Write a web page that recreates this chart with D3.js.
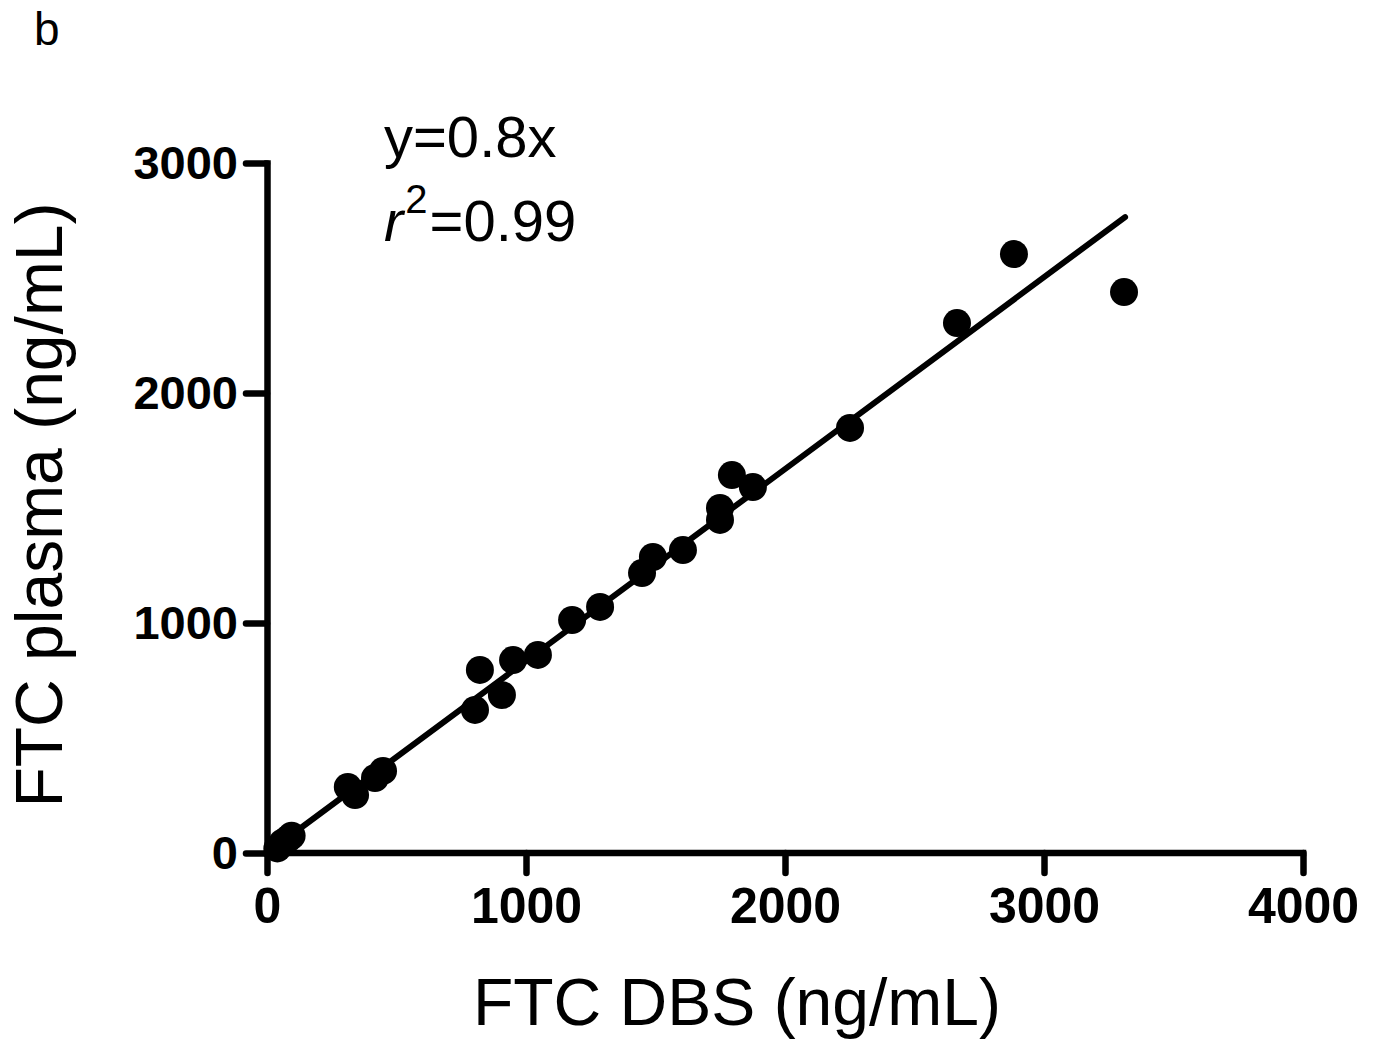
<!DOCTYPE html>
<html>
<head>
<meta charset="utf-8">
<script src="https://cdn.jsdelivr.net/npm/d3@7/dist/d3.min.js"></script>
<style>
  html, body { margin: 0; padding: 0; background: #fff; }
  svg { display: block; font-family: "Liberation Sans", Arial, sans-serif; }
</style>
</head>
<body>
<svg id="chart" width="1374" height="1040"></svg>
<script>
// Data (FTC DBS vs FTC plasma, ng/mL)
const dbsValues = [40, 60, 95, 80, 312, 340, 417, 448, 803, 822, 907, 950, 1046,
  1178, 1286, 1448, 1490, 1606, 1749, 1749, 1795, 1876, 2251, 2664, 2884, 3309];
const plasmaValues = [20, 45, 75, 60, 287, 252, 326, 357, 622, 796, 687, 839, 861,
  1013, 1070, 1217, 1287, 1317, 1448, 1500, 1643, 1591, 1848, 2304, 2604, 2439];
// Regression line as drawn
const fitX = [0, 3313];
const fitY = [0, 2765];
const xTicks = [0, 1000, 2000, 3000, 4000];
const yTicks = [0, 1000, 2000, 3000];
const xTitle = "FTC DBS (ng/mL)";
const yTitle = "FTC plasma (ng/mL)";
const panelLabel = "b";
const eqText = "y=0.8x";
const r2Value = "=0.99";

const svg = d3.select("#chart");
const x = d3.scaleLinear().domain([0, 4000]).range([267, 1303]);
const y = d3.scaleLinear().domain([0, 3000]).range([853, 163]);

// Axes
const xAxis = svg.append("g").attr("transform", `translate(0,${y(0)})`)
  .call(d3.axisBottom(x).tickValues(xTicks).tickSize(20).tickSizeOuter(0).tickPadding(14).tickFormat(d3.format("d")));
const yAxis = svg.append("g").attr("transform", `translate(${x(0)},0)`)
  .call(d3.axisLeft(y).tickValues(yTicks).tickSize(21).tickSizeOuter(0).tickPadding(8).tickFormat(d3.format("d")));

[xAxis, yAxis].forEach(g => {
  g.select(".domain").attr("stroke", "#000").attr("stroke-width", 6.5).attr("stroke-linecap", "square");
  g.selectAll(".tick line").attr("stroke", "#000").attr("stroke-width", 6.5).attr("stroke-linecap", "round");
  g.selectAll(".tick text").attr("fill", "#000")
    .attr("font-family", "'Liberation Sans', Arial, sans-serif")
    .attr("font-weight", "bold");
});
xAxis.selectAll(".tick text").attr("font-size", 50);
yAxis.selectAll(".tick text").attr("font-size", 47);
xAxis.select(".domain").attr("d", `M${x(0)},0H${x(4000)}`);

// Regression line
const line = d3.line().x(d => x(d[0])).y(d => y(d[1]));
svg.append("path")
  .datum(fitX.map((v, i) => [v, fitY[i]]))
  .attr("d", line)
  .attr("fill", "none")
  .attr("stroke", "#000")
  .attr("stroke-width", 6)
  .attr("stroke-linecap", "round");

// Points
svg.append("g").selectAll("circle")
  .data(dbsValues.map((v, i) => [v, plasmaValues[i]]))
  .join("circle")
  .attr("cx", d => x(d[0]))
  .attr("cy", d => y(d[1]))
  .attr("r", 14)
  .attr("fill", "#000");

// Axis titles
svg.append("text")
  .attr("x", 737)
  .attr("y", 1025)
  .attr("text-anchor", "middle")
  .attr("font-size", 66)
  .attr("fill", "#000")
  .text(xTitle);

svg.append("text")
  .attr("transform", `translate(62,${505}) rotate(-90)`)
  .attr("text-anchor", "middle")
  .attr("font-size", 66)
  .attr("fill", "#000")
  .text(yTitle);

// Panel label
svg.append("text")
  .attr("x", 34).attr("y", 45)
  .attr("font-size", 46)
  .attr("fill", "#000")
  .text(panelLabel);

// Equation
svg.append("text")
  .attr("x", 384).attr("y", 157)
  .attr("font-size", 58)
  .attr("fill", "#000")
  .text(eqText);

const r2 = svg.append("text")
  .attr("x", 384).attr("y", 241)
  .attr("font-size", 58)
  .attr("fill", "#000");
r2.append("tspan").attr("font-style", "italic").text("r");
r2.append("tspan").attr("font-size", 40).attr("dx", 2).attr("dy", -28).text("2");
r2.append("tspan").attr("dx", 2).attr("dy", 28).text(r2Value);
</script>
</body>
</html>
